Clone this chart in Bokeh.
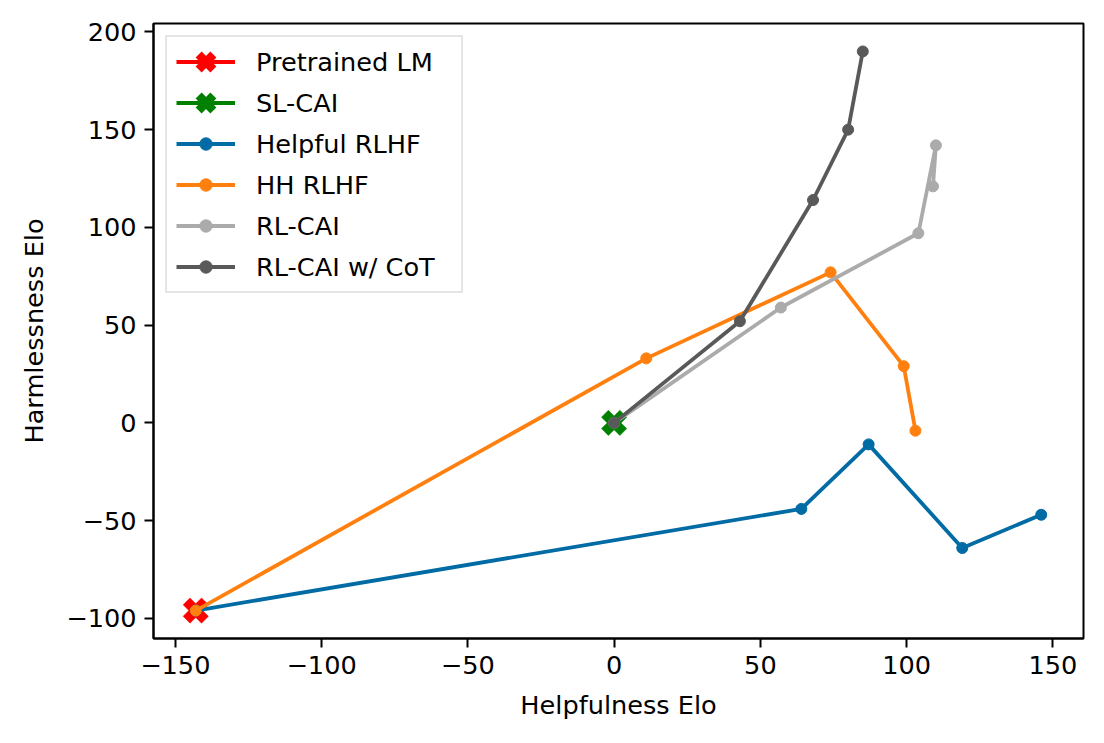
import numpy as np
from bokeh.plotting import figure
from bokeh.models import FixedTicker, Range1d, Legend, LegendItem
from bokeh.embed import file_html
from bokeh.resources import INLINE

# ---- data ----
pretrained_x = [-143]
pretrained_y = [-96]
sl_cai_x = [0]
sl_cai_y = [0]
helpful_x = [-143, 64, 87, 119, 146]
helpful_y = [-96, -44, -11, -64, -47]
hh_x = [-143, 11, 74, 99, 103]
hh_y = [-96, 33, 77, 29, -4]
rlcai_x = [0, 57, 104, 110, 109]
rlcai_y = [0, 59, 97, 142, 121]
cot_x = [0, 43, 68, 80, 85]
cot_y = [0, 52, 114, 150, 190]

x_ticks = [-150, -100, -50, 0, 50, 100, 150]
y_ticks = [-100, -50, 0, 50, 100, 150, 200]

FONT = "DejaVu Sans"
FS = "25.6px"

p = figure(width=1104, height=743, output_backend="svg", toolbar_location=None,
           x_range=Range1d(-157.45, 160.45), y_range=Range1d(-110.3, 204.3),
           min_border_left=153, min_border_right=21, min_border_top=23, min_border_bottom=105,
           frame_width=930, frame_height=615)
p.background_fill_color = "white"
p.border_fill_color = "white"
p.grid.visible = False
p.outline_line_color = "black"
p.outline_line_width = 2

for ax, ticks in ((p.xaxis[0], x_ticks), (p.yaxis[0], y_ticks)):
    ax.ticker = FixedTicker(ticks=ticks)
    ax.major_label_overrides = {t: (str(t).replace("-", "\u2212")) for t in ticks}
    ax.major_tick_out = 9
    ax.major_tick_in = 0
    ax.minor_tick_line_color = None
    ax.major_tick_line_width = 2
    ax.axis_line_width = 2
    ax.major_label_text_font = FONT
    ax.major_label_text_font_size = FS
    ax.major_label_text_color = "black"
    ax.axis_label_text_font = FONT
    ax.axis_label_text_font_size = FS
    ax.axis_label_text_font_style = "normal"
    ax.axis_label_text_color = "black"
    ax.major_label_standoff = 8

p.xaxis.axis_label = "Helpfulness Elo"
p.yaxis.axis_label = "Harmlessness Elo"
p.xaxis.axis_label_standoff = 13
p.yaxis.axis_label_standoff = 14

LW = 3.8
items = []

# X-marker series
for name, xs, ys, col in (("Pretrained LM", pretrained_x, pretrained_y, "#FF0000"),
                          ("SL-CAI", sl_cai_x, sl_cai_y, "#008000")):
    l = p.line(xs, ys, line_color=col, line_width=LW)
    # small bold "x" used as the legend swatch (hidden under the big marker in the plot)
    sw = p.scatter(xs, ys, marker="x", size=3, line_color=col, line_width=8.5,
                   line_cap="square")
    s = p.scatter(xs, ys, marker="plus", angle=np.pi / 4, size=26,
                  fill_color=col, line_color=col, line_width=0.5)
    items.append(LegendItem(label=name, renderers=[l, sw]))

# line + dot series
for name, xs, ys, col in (("Helpful RLHF", helpful_x, helpful_y, "#006BA4"),
                          ("HH RLHF", hh_x, hh_y, "#FF800E"),
                          ("RL-CAI", rlcai_x, rlcai_y, "#ABABAB"),
                          ("RL-CAI w/ CoT", cot_x, cot_y, "#595959")):
    l = p.line(xs, ys, line_color=col, line_width=LW)
    s = p.scatter(xs, ys, marker="circle", size=11, fill_color=col, line_color=col)
    items.append(LegendItem(label=name, renderers=[l, s]))

legend = Legend(items=items, location="top_left")
legend.margin = 12
legend.padding = 9
legend.spacing = 10
legend.glyph_width = 59
legend.glyph_height = 31
legend.label_height = 31
legend.label_width = 196
legend.label_standoff = 21
legend.label_text_font = FONT
legend.label_text_font_size = FS
legend.label_text_color = "black"
legend.border_line_color = "#cccccc"
legend.border_line_width = 2
legend.background_fill_alpha = 0.8
p.add_layout(legend, "center")

open("out.html", "w").write(file_html(p, INLINE))
